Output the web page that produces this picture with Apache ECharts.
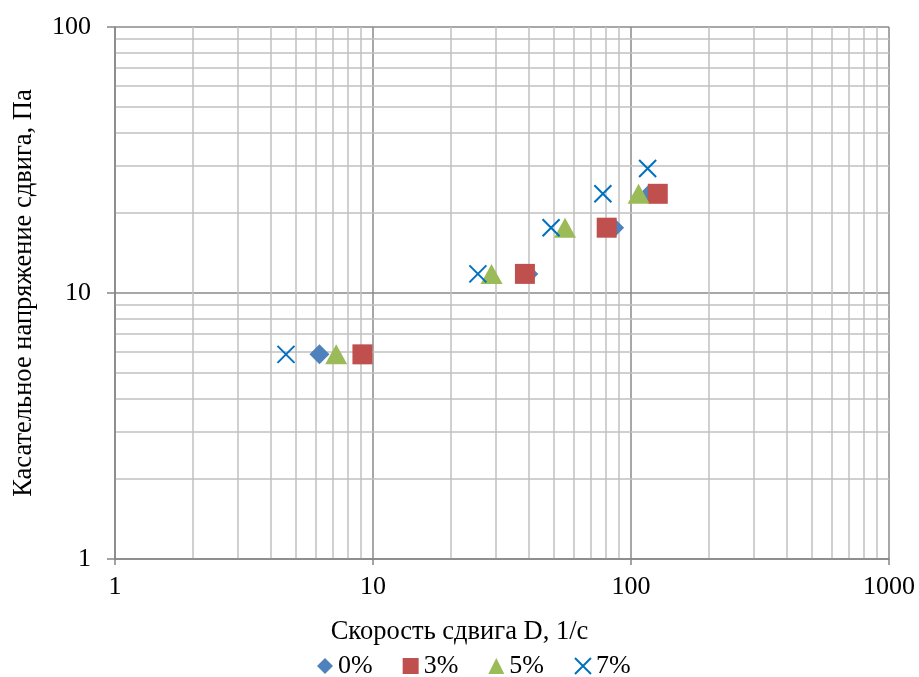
<!DOCTYPE html>
<html lang="ru">
<head>
    <meta charset="UTF-8">
    <title>Касательное напряжение сдвига</title>
    <style>
        html, body { margin: 0; padding: 0; background: #fff; }
        #chart { width: 919px; height: 677px; }
    </style>
</head>
<body>
<div id="chart"></div>
<script src="https://cdn.jsdelivr.net/npm/echarts@6/dist/echarts.min.js"></script>
<script type="text/javascript">
    // подписи легенды
    var seriesNames = ['0%', '3%', '5%', '7%'];

    // скорость сдвига D, 1/с
    var rate0 = [6.2, 40, 86, 118];
    var rate3 = [9.1, 38.8, 80.5, 127];
    var rate5 = [7.2, 28.8, 55.5, 107];
    var rate7 = [4.6, 25.5, 49, 77.8, 116];

    // касательное напряжение, Па
    var stress = [5.88, 11.8, 17.6, 23.6, 29.4];

    // промежуточные линии сетки (2..9 в каждой декаде)
    var xMinorTicks = [2, 3, 4, 5, 6, 7, 8, 9, 20, 30, 40, 50, 60, 70, 80, 90, 200, 300, 400, 500, 600, 700, 800, 900];
    var yMinorTicks = [2, 3, 4, 5, 6, 7, 8, 9, 20, 30, 40, 50, 60, 70, 80, 90];

    var font = 'Liberation Serif';

    function pairs(xs) {
        var res = [];
        for (var i = 0; i < xs.length; i++) {
            res.push([xs[i], stress[i]]);
        }
        return res;
    }

    var gridLines = [];
    xMinorTicks.forEach(function (v) { gridLines.push({xAxis: v}); });
    yMinorTicks.forEach(function (v) { gridLines.push({yAxis: v}); });

    var crossPath = 'path://M0,0L10,10M10,0L0,10';

    var option = {
        animation: false,
        textStyle: {fontFamily: font},
        title: {
            text: 'Скорость сдвига D, 1/с',
            left: 'center',
            top: 614,
            textStyle: {fontFamily: font, fontSize: 26.5, fontWeight: 'normal', color: '#000'}
        },
        legend: {
            data: seriesNames,
            left: 312,
            top: 648,
            itemWidth: 16,
            itemHeight: 16,
            itemGap: 30,
            textStyle: {fontFamily: font, fontSize: 26, color: '#000'}
        },
        grid: {left: 115, right: 30, top: 27, bottom: 118},
        xAxis: {
            type: 'log',
            logBase: 10,
            min: 1,
            max: 1000,
            axisLine: {lineStyle: {color: '#868686', width: 1.5}},
            axisTick: {show: true, length: 6, lineStyle: {color: '#868686', width: 1.5}},
            axisLabel: {
                fontFamily: font, fontSize: 26, color: '#000', margin: 15,
                formatter: function (v) { return String(v); }
            },
            splitLine: {show: true, lineStyle: {color: '#8a8a8a', width: 1.5}}
        },
        yAxis: {
            type: 'log',
            logBase: 10,
            min: 1,
            max: 100,
            name: 'Касательное напряжение сдвига, Па',
            nameLocation: 'middle',
            nameGap: 77,
            nameTextStyle: {fontFamily: font, fontSize: 26.5, color: '#000'},
            axisLine: {lineStyle: {color: '#868686', width: 1.5}},
            axisTick: {show: true, length: 8, lineStyle: {color: '#868686', width: 1.5}},
            axisLabel: {
                fontFamily: font, fontSize: 26, color: '#000', margin: 24,
                formatter: function (v) { return String(v); }
            },
            splitLine: {show: true, lineStyle: {color: '#8a8a8a', width: 1.5}}
        },
        series: [
            {
                type: 'scatter',
                silent: true,
                data: [],
                z: 0,
                markLine: {
                    silent: true,
                    z: 0,
                    symbol: ['none', 'none'],
                    label: {show: false},
                    lineStyle: {color: '#c0c0c0', width: 1.5, type: 'solid'},
                    emphasis: {disabled: true},
                    data: gridLines
                }
            },
            {
                name: seriesNames[0],
                type: 'scatter',
                symbol: 'diamond',
                symbolSize: [20, 20],
                itemStyle: {color: '#4F81BD', opacity: 1},
                data: pairs(rate0),
                z: 3
            },
            {
                name: seriesNames[1],
                type: 'scatter',
                symbol: 'rect',
                symbolSize: 20,
                itemStyle: {color: '#C0504D', opacity: 1},
                data: pairs(rate3),
                z: 4
            },
            {
                name: seriesNames[2],
                type: 'scatter',
                symbol: 'triangle',
                symbolSize: [22, 20],
                itemStyle: {color: '#9BBB59', opacity: 1},
                data: pairs(rate5),
                z: 5
            },
            {
                name: seriesNames[3],
                type: 'scatter',
                symbol: crossPath,
                symbolSize: 17,
                itemStyle: {color: 'transparent', borderColor: '#0070C0', borderWidth: 2, opacity: 1},
                data: pairs(rate7),
                z: 6
            }
        ]
    };

    var myChart = echarts.init(document.getElementById('chart'));
    myChart.setOption(option);
</script>
</body>
</html>
